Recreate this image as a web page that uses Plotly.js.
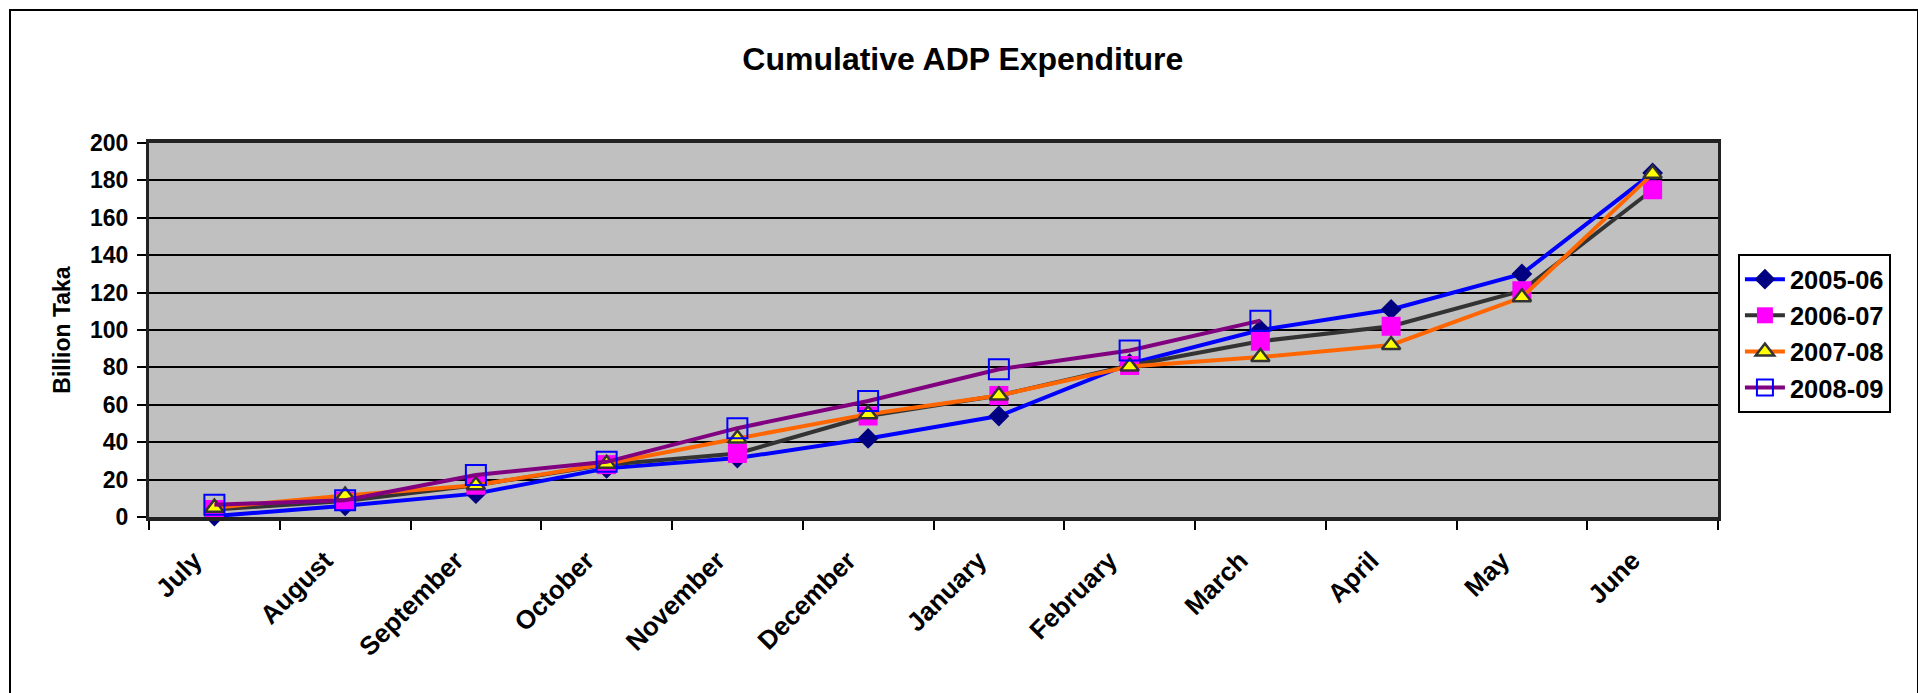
<!DOCTYPE html>
<html>
<head>
<meta charset="utf-8">
<script src="https://cdn.plot.ly/plotly-3.0.1.min.js"></script>
<style>
  html, body { margin: 0; padding: 0; background: #ffffff; }
  #chart { width: 1918px; height: 693px; }
  #frame { position: absolute; left: 9px; top: 9px; width: 1906px; height: 700px;
           border: 2px solid #000; pointer-events: none; }
</style>
</head>
<body>
<div id="chart"></div>
<div id="frame"></div>
<script>
// ---- data ----
const months = ["July", "August", "September", "October", "November", "December",
                "January", "February", "March", "April", "May", "June"];
const fy2005_06 = [0.5, 6, 12.5, 26, 31.5, 42, 54, 82, 100, 111, 130, 184];
const fy2006_07 = [4, 8.5, 17, 28, 34, 54, 65, 81, 94, 102, 121, 175];
const fy2007_08 = [5, 11.5, 17, 28.5, 42, 55, 65, 80.5, 85.5, 92, 117.5, 183.5];
const fy2008_09 = [6.5, 9, 22.5, 29.5, 47.5, 62, 79, 89, 105];
const seriesNames = ["2005-06", "2006-07", "2007-08", "2008-09"];
const yTicks = [0, 20, 40, 60, 80, 100, 120, 140, 160, 180, 200];

const FONT = "Liberation Sans, Arial, Helvetica, sans-serif";

const traces = [
  {
    x: months, y: fy2005_06, name: seriesNames[0], type: "scatter", mode: "lines+markers",
    cliponaxis: false,
    line: { color: "#0000FF", width: 4 },
    marker: { symbol: "diamond", size: 16, color: "#000080", line: { width: 0 } }
  },
  {
    x: months, y: fy2006_07, name: seriesNames[1], type: "scatter", mode: "lines+markers",
    cliponaxis: false,
    line: { color: "#333333", width: 4 },
    marker: { symbol: "square", size: 19, color: "#FF00FF", line: { width: 0 } }
  },
  {
    x: months, y: fy2007_08, name: seriesNames[2], type: "scatter", mode: "lines+markers",
    cliponaxis: false,
    line: { color: "#FF6600", width: 4 },
    marker: { symbol: "triangle-up", size: 16, color: "#FFFF00", line: { color: "#333333", width: 2.5 } }
  },
  {
    x: months.slice(0, fy2008_09.length), y: fy2008_09, name: seriesNames[3], type: "scatter", mode: "lines+markers",
    cliponaxis: false,
    line: { color: "#800080", width: 4 },
    marker: { symbol: "square-open", size: 20, color: "#0000FF", line: { color: "#0000FF", width: 2 } }
  }
];

const layout = {
  width: 1918, height: 693,
  margin: { l: 149, r: 200, t: 143, b: 176, pad: 0 },
  paper_bgcolor: "#ffffff",
  plot_bgcolor: "#C0C0C0",
  font: { family: FONT, color: "#000000" },
  title: {
    text: "Cumulative ADP Expenditure",
    font: { family: FONT, size: 32, weight: 700, color: "#000" },
    x: 0.502, xref: "container", xanchor: "center",
    y: 0.915, yref: "container", yanchor: "middle"
  },
  xaxis: {
    type: "category",
    categoryorder: "array", categoryarray: months,
    range: [-0.5, 11.5],
    showline: true, linecolor: "#222222", linewidth: 4, mirror: true,
    showgrid: false, zeroline: false,
    ticks: "outside", tickson: "boundaries", ticklen: 9, tickwidth: 2, tickcolor: "#000",
    tickangle: -45,
    ticklabelstandoff: 14, ticklabelshift: -20,
    tickfont: { family: FONT, size: 26, weight: 700, color: "#000" }
  },
  yaxis: {
    range: [0, 200], tickvals: yTicks, ticktext: yTicks.map(String),
    showline: true, linecolor: "#222222", linewidth: 3, mirror: true,
    showgrid: true, gridcolor: "#000000", gridwidth: 2,
    zeroline: false,
    ticks: "outside", ticklen: 9, tickwidth: 2, tickcolor: "#000",
    ticklabelstandoff: 4,
    tickfont: { family: FONT, size: 23, weight: 700, color: "#000" },
    title: { text: "Billion Taka", standoff: 13,
             font: { family: FONT, size: 23, weight: 700, color: "#000" } }
  },
  showlegend: true,
  legend: {
    x: 1.0127, xanchor: "left", y: 0.703, yanchor: "top",
    bgcolor: "#ffffff", bordercolor: "#000000", borderwidth: 2,
    font: { family: FONT, size: 25.5, weight: 700, color: "#000" },
    tracegroupgap: 0, itemwidth: 40
  }
};

Plotly.newPlot("chart", traces, layout, { displayModeBar: false, staticPlot: true });
</script>
</body>
</html>
